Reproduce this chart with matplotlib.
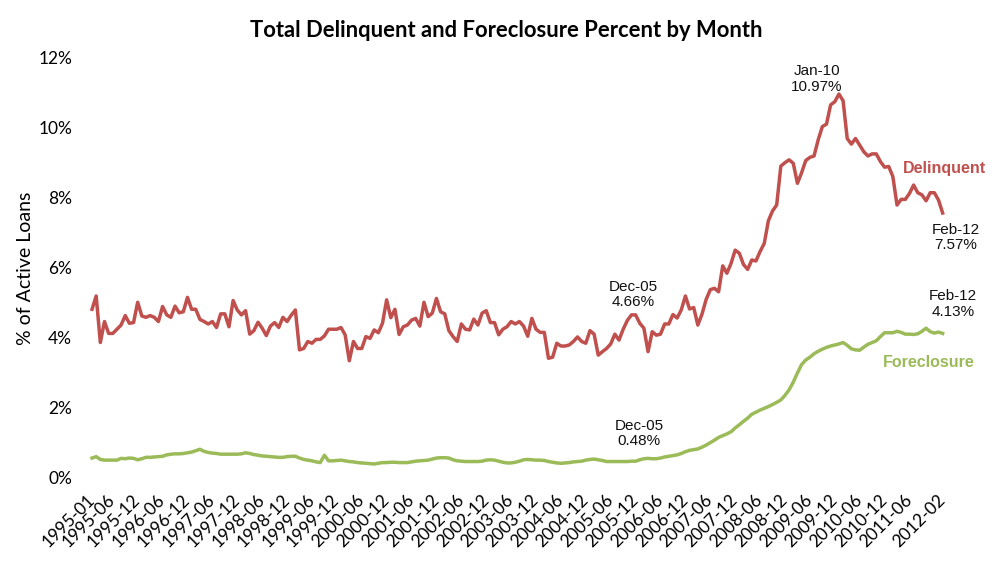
import numpy as np
import matplotlib
matplotlib.use('Agg')
import matplotlib.pyplot as plt

# monthly series, 1995-01 .. 2012-02 (percent of active loans)
delinquent = [
    4.82, 5.20, 3.87, 4.47, 4.13, 4.13, 4.25, 4.37, 4.64, 4.42, 4.44, 5.02,
    4.63, 4.59, 4.64, 4.59, 4.47, 4.90, 4.66, 4.59, 4.91, 4.72, 4.75, 5.16,
    4.82, 4.82, 4.53, 4.47, 4.40, 4.47, 4.30, 4.69, 4.69, 4.32, 5.07, 4.80,
    4.66, 4.78, 4.11, 4.21, 4.45, 4.28, 4.07, 4.34, 4.44, 4.30, 4.59, 4.47,
    4.65, 4.80, 3.66, 3.70, 3.90, 3.85, 3.96, 3.96, 4.06, 4.25, 4.25, 4.25,
    4.30, 4.09, 3.35, 3.90, 3.70, 3.70, 4.04, 3.99, 4.23, 4.15, 4.42, 5.09,
    4.58, 4.82, 4.10, 4.32, 4.37, 4.51, 4.56, 4.34, 5.02, 4.61, 4.71, 5.13,
    4.75, 4.69, 4.21, 4.04, 3.90, 4.40, 4.25, 4.23, 4.54, 4.37, 4.71, 4.78,
    4.44, 4.44, 4.09, 4.25, 4.32, 4.47, 4.40, 4.47, 4.34, 4.05, 4.56, 4.25,
    4.16, 4.16, 3.42, 3.45, 3.85, 3.77, 3.77, 3.80, 3.90, 4.03, 3.90, 3.85,
    4.21, 4.11, 3.51, 3.61, 3.70, 3.83, 4.11, 3.94, 4.25, 4.50, 4.66, 4.66,
    4.42, 4.28, 3.61, 4.18, 4.08, 4.11, 4.40, 4.40, 4.67, 4.57, 4.80, 5.20,
    4.83, 4.87, 4.37, 4.68, 5.10, 5.38, 5.42, 5.32, 6.06, 5.85, 6.13, 6.51,
    6.42, 6.10, 5.96, 6.23, 6.20, 6.47, 6.70, 7.35, 7.63, 7.80, 8.91, 9.01,
    9.09, 8.99, 8.42, 8.72, 9.07, 9.16, 9.20, 9.66, 10.04, 10.11, 10.66, 10.75,
    10.97, 10.78, 9.70, 9.54, 9.70, 9.51, 9.32, 9.20, 9.26, 9.26, 9.04, 8.88,
    8.90, 8.61, 7.80, 7.96, 7.96, 8.13, 8.37, 8.15, 8.09, 7.92, 8.15, 8.15,
    7.94, 7.57,
]

foreclosure = [
    0.57, 0.61, 0.53, 0.51, 0.51, 0.51, 0.51, 0.56, 0.55, 0.57, 0.56, 0.52,
    0.55, 0.59, 0.59, 0.60, 0.61, 0.62, 0.66, 0.68, 0.69, 0.69, 0.70, 0.72,
    0.74, 0.78, 0.82, 0.76, 0.73, 0.71, 0.70, 0.68, 0.68, 0.68, 0.68, 0.68,
    0.69, 0.72, 0.70, 0.67, 0.65, 0.63, 0.62, 0.61, 0.60, 0.59, 0.59, 0.61,
    0.62, 0.62, 0.57, 0.53, 0.51, 0.49, 0.46, 0.44, 0.65, 0.49, 0.49, 0.50,
    0.51, 0.49, 0.47, 0.46, 0.44, 0.43, 0.42, 0.41, 0.40, 0.42, 0.44, 0.44,
    0.45, 0.45, 0.44, 0.44, 0.44, 0.46, 0.48, 0.49, 0.50, 0.51, 0.54, 0.57,
    0.58, 0.58, 0.57, 0.52, 0.49, 0.48, 0.47, 0.47, 0.47, 0.47, 0.48, 0.51,
    0.52, 0.51, 0.48, 0.45, 0.43, 0.43, 0.45, 0.48, 0.52, 0.53, 0.52, 0.51,
    0.51, 0.50, 0.47, 0.45, 0.43, 0.42, 0.43, 0.44, 0.46, 0.47, 0.48, 0.51,
    0.53, 0.54, 0.52, 0.50, 0.47, 0.47, 0.47, 0.47, 0.47, 0.47, 0.48, 0.48,
    0.52, 0.55, 0.56, 0.55, 0.55, 0.57, 0.60, 0.62, 0.64, 0.66, 0.70, 0.75,
    0.79, 0.81, 0.83, 0.88, 0.94, 1.01, 1.08, 1.16, 1.21, 1.26, 1.32, 1.43,
    1.52, 1.62, 1.71, 1.82, 1.88, 1.94, 1.99, 2.04, 2.10, 2.16, 2.23, 2.36,
    2.52, 2.74, 3.00, 3.24, 3.37, 3.45, 3.55, 3.62, 3.68, 3.73, 3.77, 3.80,
    3.83, 3.87, 3.79, 3.69, 3.66, 3.65, 3.74, 3.82, 3.87, 3.92, 4.04, 4.15,
    4.15, 4.15, 4.19, 4.16, 4.11, 4.11, 4.10, 4.12, 4.19, 4.28, 4.18, 4.14,
    4.17, 4.13,
]

months = ['%d-%02d' % (1995 + k // 12, k % 12 + 1) for k in range(len(delinquent))]
# x axis labels as shown on the chart
tick_labels = ['1995-01'] + ['%d-%s' % (y, m) for y in range(1995, 2012) for m in ('06', '12')
                             if '%d-%s' % (y, m) != '2011-12'] + ['2012-02']
yticks = [0, 2, 4, 6, 8, 10, 12]

red = '#C0504D'
green = '#9BBB59'

fig = plt.figure(figsize=(10.07, 5.81), dpi=100)
ax = fig.add_axes([0.0745, 0.1773, 0.8785, 0.7229])

x = np.arange(len(months))
ax.plot(x, delinquent, color=red, lw=2.5, solid_joinstyle='round')
ax.plot(x, foreclosure, color=green, lw=2.5, solid_joinstyle='round')

ax.set_xlim(-4.1, 209.1)
ax.set_ylim(0, 12)
for s in ax.spines.values():
    s.set_visible(False)

ax.set_xticks([months.index(l) for l in tick_labels])
ax.set_xticklabels(tick_labels, rotation=45, ha='right', va='center',
                   rotation_mode='anchor', fontsize=12.5, family='Lato')
ax.set_yticks(yticks)
ax.set_yticklabels(['%d%%' % v for v in yticks], fontsize=12.5, family='Lato')
ax.tick_params(axis='x', length=0, pad=14)
ax.tick_params(axis='y', length=0, pad=2)

ax.set_ylabel('% of Active Loans', fontsize=14, family='Lato', labelpad=3)
fig.suptitle('Total Delinquent and Foreclosure Percent by Month', x=0.503, y=0.965,
             fontsize=15.8, fontweight='bold', family='Lato')

names = ['Jan', 'Feb', 'Mar', 'Apr', 'May', 'Jun', 'Jul', 'Aug', 'Sep', 'Oct', 'Nov', 'Dec']

def short(i):
    y, m = months[i].split('-')
    return '%s-%s' % (names[int(m) - 1], y[2:])

def note(i, val, xi, yv):
    ax.text(xi, yv, '%s\n%.2f%%' % (short(i), val), ha='center', va='center',
            fontsize=11, family='Liberation Sans', color='#111111', linespacing=1.1)

i_dec05 = months.index('2005-12')
i_jan10 = months.index('2010-01')
i_last = len(months) - 1
note(i_jan10, delinquent[i_jan10], 174.7, 11.4)
note(i_dec05, delinquent[i_dec05], 130.4, 5.23)
note(i_dec05, foreclosure[i_dec05], 131.8, 1.26)
note(i_last, delinquent[i_last], 208.2, 6.86)
note(i_last, foreclosure[i_last], 207.5, 4.97)

ax.text(205.5, 8.83, 'Delinquent', color=red, fontsize=11.5, fontweight='bold',
        family='Liberation Sans', ha='center', va='center')
ax.text(201.7, 3.29, 'Foreclosure', color=green, fontsize=11.5, fontweight='bold',
        family='Liberation Sans', ha='center', va='center')

fig.savefig('out.png', dpi=100)
